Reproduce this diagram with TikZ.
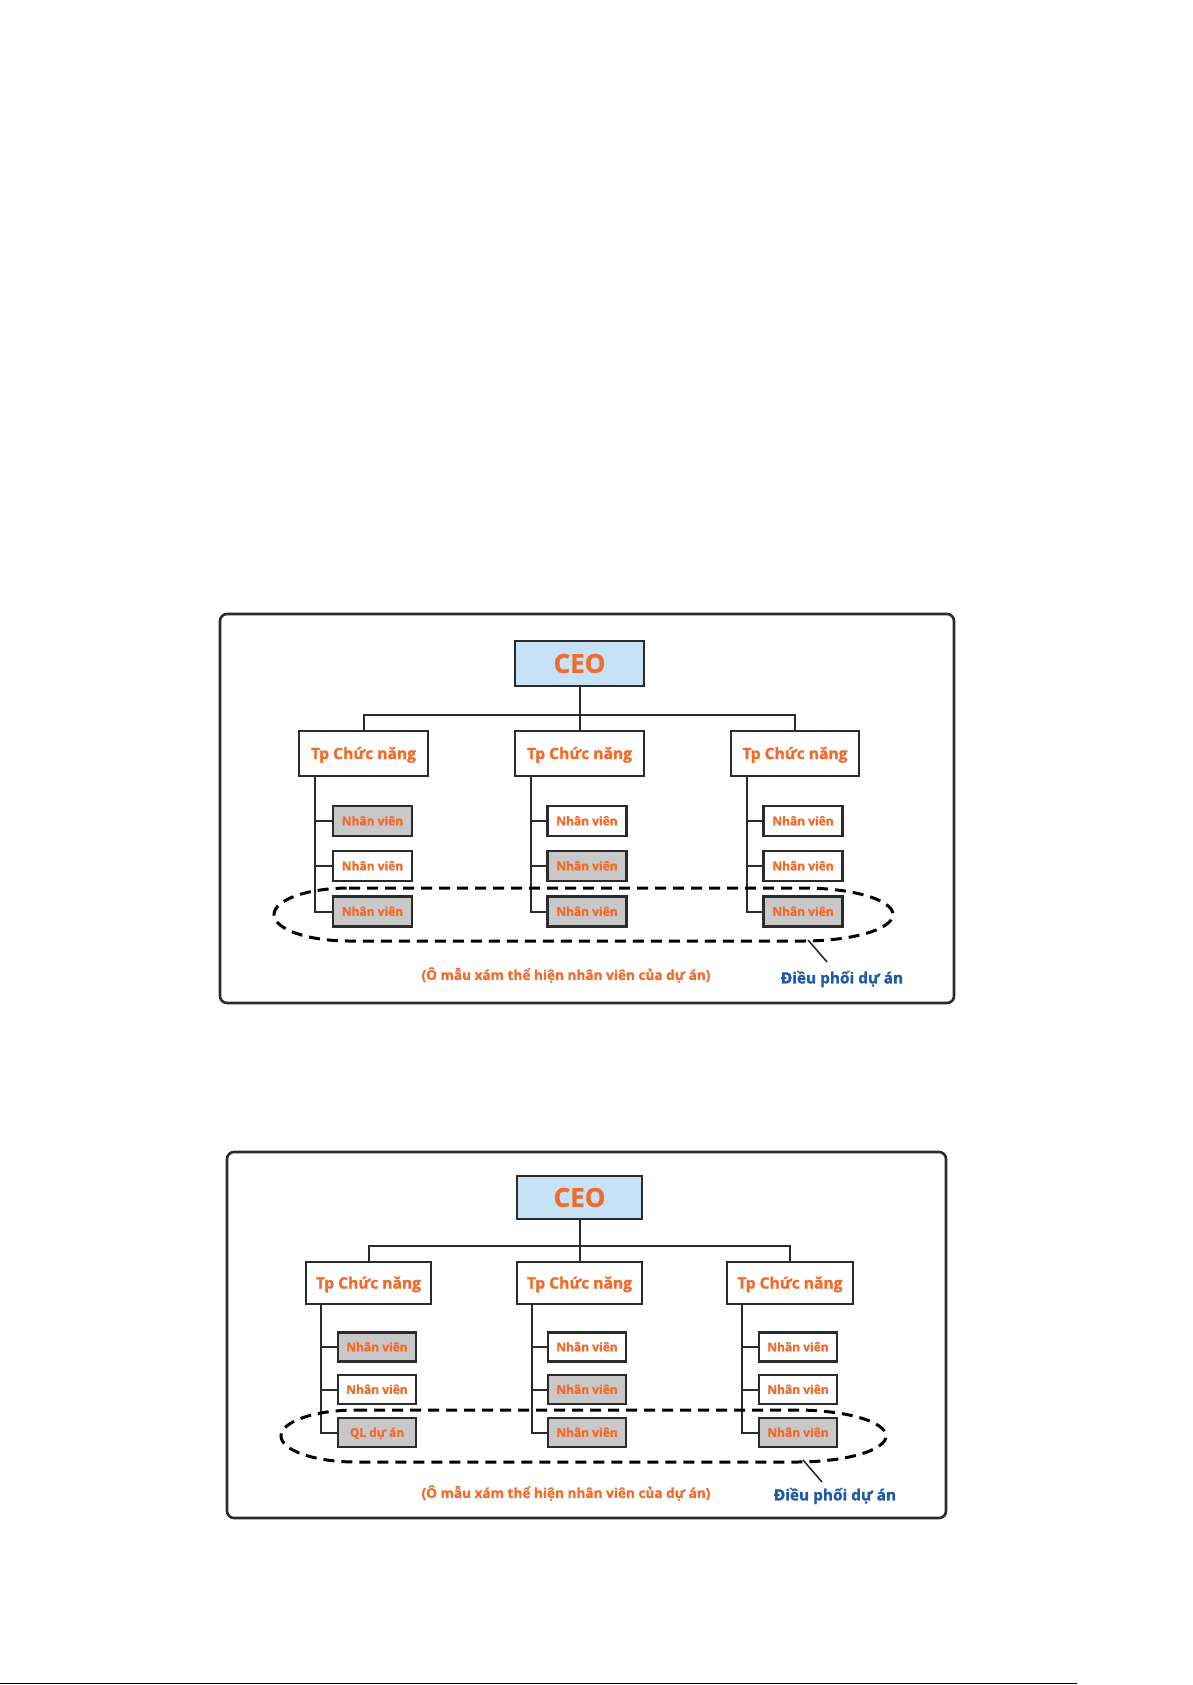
\documentclass[tikz,border=0pt]{standalone}
\usepackage{fontspec}
\setmainfont[BoldFeatures={FakeBold=1.3}]{Open Sans}
\definecolor{orgtxt}{HTML}{F26B2B}
\definecolor{bluetxt}{HTML}{1E5AA8}
\definecolor{ceofill}{HTML}{C5E2F6}
\definecolor{greyfill}{HTML}{C8C8C8}
\definecolor{linec}{HTML}{2B2B2B}
\tikzset{
  frame/.style={draw=linec, line width=2.6pt, rounded corners=7pt, inner sep=0pt},
  ceobox/.style={draw=linec, line width=2.1pt, fill=ceofill, text=orgtxt, inner sep=0pt,
    font=\bfseries\fontsize{26}{26}\selectfont, text height=18.5pt, text depth=0pt},
  tpbox/.style={draw=linec, line width=2.1pt, fill=white, text=orgtxt, inner sep=0pt,
    font=\bfseries\fontsize{15.6}{15.6}\selectfont, text height=11.1pt, text depth=0pt},
  nvbox/.style={draw=linec, line width=2.1pt, fill=white, text=orgtxt, inner sep=0pt,
    font=\bfseries\fontsize{12}{12}\selectfont, text height=8.6pt, text depth=0pt},
  greybox/.style={fill=greyfill},
  link/.style={draw=linec, line width=2pt},
  groupline/.style={draw=black, line width=3pt, dash pattern=on 11pt off 7pt},
  notetext/.style={text=orgtxt, inner sep=0pt, font=\bfseries\fontsize{13.6}{13.6}\selectfont},
  tagtext/.style={text=bluetxt, inner sep=0pt, font=\bfseries\fontsize{15.4}{15.4}\selectfont},
  pointer/.style={draw=linec, line width=1.6pt}
}
\begin{document}
\begin{tikzpicture}[x=1pt,y=-1pt]
\useasboundingbox (0,0) rectangle (1192,1685);

% ================= Diagram 1 =================
\node[frame, minimum width=734pt, minimum height=389pt] (fr1) at (587,808.5) {};
\node[ceobox, minimum width=129pt, minimum height=45pt] (ceo1) at (579.5,663.5) {CEO};
\node[tpbox, minimum width=129pt, minimum height=45pt] (tpL1) at (363.5,753.5) {Tp Chức năng};
\node[tpbox, minimum width=129pt, minimum height=45pt] (tpM1) at (579.5,753.5) {Tp Chức năng};
\node[tpbox, minimum width=128pt, minimum height=45pt] (tpR1) at (795,753.5) {Tp Chức năng};

\tikzset{nvdim/.style={nvbox, minimum width=79pt, minimum height=30pt}}
\node[nvdim, greybox] (nvL11) at (372.5,821) {Nhân viên};
\node[nvdim]          (nvL12) at (372.5,866) {Nhân viên};
\node[nvdim, greybox] (nvL13) at (372.5,911.5) {Nhân viên};
\node[nvdim]          (nvM11) at (587,821) {Nhân viên};
\node[nvdim, greybox] (nvM12) at (587,866) {Nhân viên};
\node[nvdim, greybox] (nvM13) at (587,911.5) {Nhân viên};
\node[nvdim]          (nvR11) at (803,821) {Nhân viên};
\node[nvdim]          (nvR12) at (803,866) {Nhân viên};
\node[nvdim, greybox] (nvR13) at (803,911.5) {Nhân viên};

\draw[link] (ceo1.south) -- (tpM1.north);
\draw[link] (tpL1.north) -- ++(0,-15) -| (tpR1.north);
\foreach \c in {L,M,R}{
  \coordinate (s\c1) at ([xshift=17pt]tp\c1.south west);
  \draw[link] (s\c1) |- (nv\c13.west);
  \draw[link] (nv\c11.west) -- (nv\c11.west -| s\c1);
  \draw[link] (nv\c12.west) -- (nv\c12.west -| s\c1);
}

\draw[groupline] (349,888) -- (803,888)
  arc[start angle=90, end angle=-90, x radius=90pt, y radius=26.5pt]
  -- (349,941)
  arc[start angle=270, end angle=90, x radius=75pt, y radius=26.5pt] -- cycle;

\node[notetext] (note1) at (566,975) {(Ô mẫu xám thể hiện nhân viên của dự án)};
\node[tagtext] (tag1) at (842,979) {Điều phối dự án};
\coordinate (dpa1) at (808,940);
\coordinate (dpb1) at (827,962);
\draw[pointer] (dpa1) -- (dpb1);

% ================= Diagram 2 =================
\node[frame, minimum width=719pt, minimum height=366pt] (fr2) at (586.5,1335) {};
\node[ceobox, minimum width=125pt, minimum height=43pt] (ceo2) at (579.5,1197.5) {CEO};
\node[tpbox, minimum width=125pt, minimum height=42pt] (tpL2) at (368.5,1283) {Tp Chức năng};
\node[tpbox, minimum width=125pt, minimum height=42pt] (tpM2) at (579.5,1283) {Tp Chức năng};
\node[tpbox, minimum width=126pt, minimum height=42pt] (tpR2) at (790,1283) {Tp Chức năng};

\tikzset{nvdimb/.style={nvbox, minimum width=78pt, minimum height=29pt}}
\node[nvdimb, greybox] (nvL21) at (377,1347) {Nhân viên};
\node[nvdimb]          (nvL22) at (377,1389.5) {Nhân viên};
\node[nvdimb, greybox] (nvL23) at (377,1432.5) {QL dự án};
\node[nvdimb]          (nvM21) at (587,1347) {Nhân viên};
\node[nvdimb, greybox] (nvM22) at (587,1389.5) {Nhân viên};
\node[nvdimb, greybox] (nvM23) at (587,1432.5) {Nhân viên};
\node[nvdimb]          (nvR21) at (798,1347) {Nhân viên};
\node[nvdimb]          (nvR22) at (798,1389.5) {Nhân viên};
\node[nvdimb, greybox] (nvR23) at (798,1432.5) {Nhân viên};

\draw[link] (ceo2.south) -- (tpM2.north);
\draw[link] (tpL2.north) -- ++(0,-15) -| (tpR2.north);
\foreach \c in {L,M,R}{
  \coordinate (s\c2) at ([xshift=16pt]tp\c2.south west);
  \draw[link] (s\c2) |- (nv\c23.west);
  \draw[link] (nv\c21.west) -- (nv\c21.west -| s\c2);
  \draw[link] (nv\c22.west) -- (nv\c22.west -| s\c2);
}

\draw[groupline] (356,1410) -- (796,1410)
  arc[start angle=90, end angle=-90, x radius=90pt, y radius=26pt]
  -- (356,1462)
  arc[start angle=270, end angle=90, x radius=75pt, y radius=26pt] -- cycle;

\node[notetext] (note2) at (566,1493) {(Ô mẫu xám thể hiện nhân viên của dự án)};
\node[tagtext] (tag2) at (835,1496) {Điều phối dự án};
\coordinate (dpa2) at (803,1460);
\coordinate (dpb2) at (822,1482);
\draw[pointer] (dpa2) -- (dpb2);

% bottom rule
\draw[line width=1.6pt] (0,1683.5) -- (1077,1683.5);
\end{tikzpicture}
\end{document}
